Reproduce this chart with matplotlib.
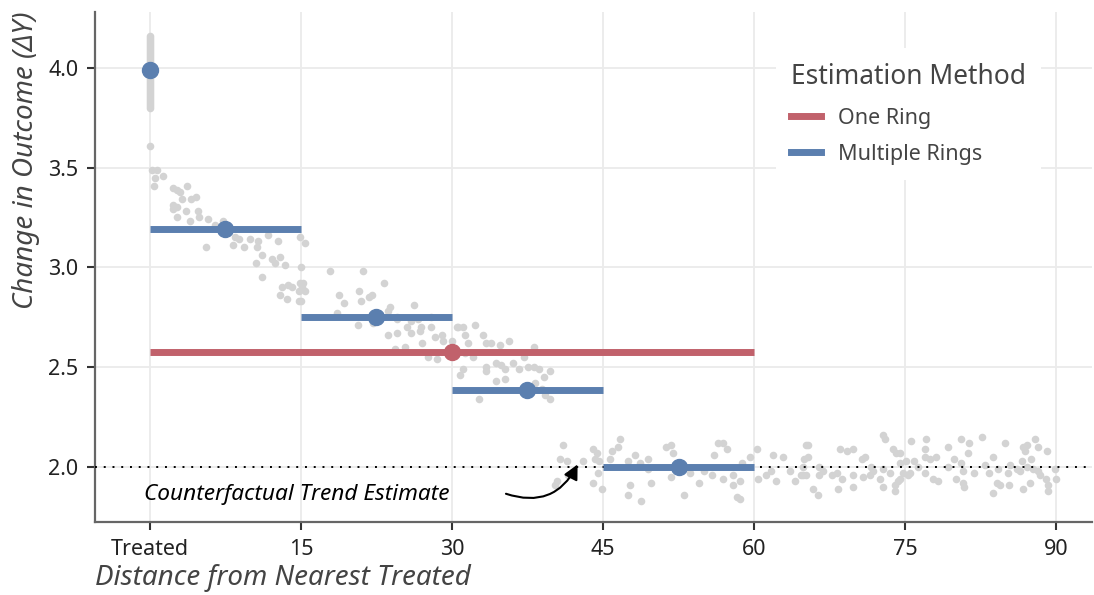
import matplotlib.pyplot as plt
from matplotlib.lines import Line2D

# colours
red = '#C1616B'
blue = '#5B7FAF'
grey_pts = '#D3D3D3'

# x tick positions / labels
x_ticks = [0, 15, 30, 45, 60, 75, 90]
x_labels = ['Treated', '15', '30', '45', '60', '75', '90']
y_ticks = [2.0, 2.5, 3.0, 3.5, 4.0]

# treated units (distance 0)
treated_y = [4.16, 4.15, 4.14, 4.13, 4.12, 4.11, 4.10, 4.09, 4.08, 4.07, 4.06,
             4.05, 4.04, 4.03, 4.02, 4.01, 3.99, 3.98, 3.97, 3.96, 3.95, 3.94,
             3.93, 3.92, 3.91, 3.90, 3.89, 3.88, 3.87, 3.86, 3.85, 3.84, 3.83,
             3.82, 3.81, 3.80, 3.61]

# control units, by distance band
band1_x = [0.2, 0.7, 1.3, 0.5, 0.4, 2.3, 2.7, 3.0, 3.7, 3.2, 4.1, 4.6, 2.3, 2.7,
           2.3, 3.6, 4.8, 2.7, 4.0, 4.9, 5.8, 6.5, 7.3, 5.6, 7.9, 8.4, 8.8, 8.3,
           9.3, 9.9, 10.7, 10.6, 11.7, 12.7, 11.1, 10.5, 12.1, 12.4, 12.9, 13.4,
           11.1, 14.9, 13.1, 13.7, 14.1, 12.9, 13.6, 14.9, 14.8, 14.8]
band1_y = [3.49, 3.49, 3.46, 3.45, 3.41, 3.40, 3.39, 3.38, 3.41, 3.34, 3.34, 3.35,
           3.31, 3.30, 3.29, 3.28, 3.28, 3.25, 3.23, 3.25, 3.24, 3.21, 3.23, 3.10,
           3.20, 3.15, 3.14, 3.11, 3.10, 3.14, 3.13, 3.10, 3.16, 3.13, 3.06, 3.02,
           3.04, 3.02, 3.05, 3.01, 2.95, 3.15, 2.90, 2.91, 2.90, 2.86, 2.84, 2.92,
           2.88, 2.83]

band2_x = [15.4, 15.0, 15.2, 15.1, 15.4, 15.0, 17.9, 21.2, 23.2, 18.8, 19.3, 20.8,
           21.0, 21.8, 22.1, 18.6, 20.7, 22.2, 23.8, 23.6, 24.5, 26.2, 25.5, 25.9,
           26.6, 26.9, 25.9, 26.8, 27.9, 27.9, 23.6, 24.5, 28.3, 29.0, 27.0, 29.1,
           24.3, 27.6, 28.5, 25.3, 24.5]
band2_y = [3.12, 3.00, 2.92, 2.90, 2.88, 2.83, 2.98, 2.98, 2.92, 2.86, 2.82, 2.88,
           2.83, 2.85, 2.86, 2.77, 2.71, 2.72, 2.80, 2.78, 2.75, 2.81, 2.70, 2.73,
           2.74, 2.70, 2.67, 2.68, 2.75, 2.70, 2.66, 2.67, 2.65, 2.66, 2.62, 2.63,
           2.59, 2.55, 2.54, 2.60, 2.74]

band3_x = [30.6, 31.1, 32.3, 31.3, 33.1, 31.6, 33.4, 33.9, 34.8, 35.7, 32.1, 31.3,
           38.1, 33.4, 34.4, 34.9, 35.3, 36.1, 36.7, 37.6, 38.1, 38.6, 39.7, 31.1,
           30.8, 33.4, 34.4, 35.3, 37.2, 39.1, 38.2, 38.9, 39.7, 39.2, 32.7, 30.5,
           30.0]
band3_y = [2.70, 2.70, 2.71, 2.66, 2.66, 2.62, 2.62, 2.62, 2.61, 2.63, 2.55, 2.57,
           2.60, 2.50, 2.52, 2.51, 2.49, 2.52, 2.49, 2.50, 2.50, 2.49, 2.48, 2.49,
           2.46, 2.48, 2.43, 2.44, 2.55, 2.45, 2.42, 2.39, 2.34, 2.36, 2.34, 2.70,
           2.63]

tail_x = [41.0, 40.7, 41.4, 40.4, 40.2, 41.5, 43.0, 44.0, 44.4, 44.2, 44.6, 44.5,
          44.0, 44.9, 45.9, 46.5, 46.7, 45.7, 47.5, 48.2, 47.7, 47.5, 48.8, 48.7,
          49.5, 49.8, 51.3, 51.8, 52.0, 51.8, 53.0, 54.5, 55.0, 56.0, 56.4, 56.9,
          55.8, 56.9, 57.9, 57.9, 58.6, 58.3, 58.6, 58.8, 59.6, 60.3, 60.4, 61.2,
          61.7, 61.9, 62.2, 62.9, 63.6, 64.1, 64.9, 65.2, 49.5, 53.6, 57.3,
          65.4, 65.0, 65.4, 64.9, 65.2, 65.9, 66.4, 66.5, 66.9, 66.5, 67.7, 68.2,
          68.7, 68.3, 68.5, 69.2, 69.8, 69.8, 69.8, 70.7, 71.0, 70.8, 71.5, 71.8,
          71.6, 72.5, 72.8, 72.8, 73.0, 72.8, 73.5, 73.8, 74.1, 74.5, 74.5, 74.8,
          74.5, 74.0, 74.3, 74.0, 75.1, 75.3, 75.5, 75.6, 75.9, 76.3, 77.0, 77.1,
          77.0, 77.5, 77.0, 78.1, 77.8, 78.3, 79.3, 79.3, 79.9, 80.1, 80.8, 80.9,
          80.6, 80.6, 80.8, 81.4, 81.3, 81.8, 82.6, 82.9, 83.3, 83.7, 84.1, 83.7,
          84.4, 84.2, 84.9, 85.4, 85.2, 85.3, 86.1, 86.4, 86.7, 87.1, 86.9, 86.6,
          87.1, 87.5, 86.7, 87.4, 87.9, 88.2, 87.7, 88.2, 88.4, 89.1, 89.0, 89.2,
          89.2, 89.9, 90.0, 64.7]
tail_y = [2.11, 2.04, 2.03, 1.93, 1.91, 1.96, 2.03, 2.09, 2.07, 2.04, 2.03, 1.97,
          1.92, 1.89, 2.08, 2.10, 2.14, 2.04, 2.03, 2.06, 1.91, 1.86, 1.83, 2.02,
          2.04, 1.92, 2.10, 2.11, 2.07, 1.95, 1.86, 1.92, 1.98, 2.06, 2.12, 2.12,
          1.96, 1.94, 1.96, 1.91, 1.93, 1.85, 1.84, 2.02, 2.05, 2.09, 1.94, 1.96,
          1.98, 2.06, 1.93, 2.05, 1.98, 1.93, 2.00, 2.11, 1.99, 1.97, 2.09,
          2.11, 2.04, 2.05, 1.96, 1.96, 1.89, 1.86, 2.00, 1.98, 1.96, 1.96, 1.97,
          1.94, 1.89, 2.09, 2.08, 2.09, 1.96, 1.90, 2.04, 2.05, 1.95, 1.96, 1.98,
          2.00, 1.94, 1.99, 2.16, 2.14, 1.90, 1.97, 2.09, 2.07, 2.07, 2.02, 1.97,
          1.94, 1.91, 1.93, 1.88, 2.03, 1.96, 1.97, 2.13, 2.03, 2.00, 2.09, 2.14,
          2.05, 2.04, 1.97, 2.05, 1.94, 1.93, 2.10, 2.00, 2.04, 1.94, 1.92, 1.90,
          2.14, 2.02, 1.98, 2.12, 2.07, 1.97, 2.15, 2.01, 1.97, 2.05, 1.92, 1.87,
          1.91, 1.99, 2.12, 2.01, 1.97, 1.91, 1.99, 1.98, 2.10, 2.11, 2.08, 2.03,
          2.00, 2.04, 1.89, 1.92, 2.14, 2.10, 1.99, 1.98, 1.96, 2.08, 1.94, 1.91,
          1.88, 1.99, 1.94, 1.96]

# estimates
one_ring = {'x0': 0, 'x1': 60, 'mid': 30, 'y': 2.575}
multi_x0 = [0, 15, 30, 45]
multi_x1 = [15, 30, 45, 60]
multi_mid = [7.5, 22.5, 37.5, 52.5]
multi_y = [3.19, 2.75, 2.385, 2.0]
treated_est = 3.99
counterfactual = 2.0

plt.rcParams['font.family'] = ['Noto Sans', 'DejaVu Sans']

fig = plt.figure(figsize=(10.94, 5.95), dpi=100)
ax = fig.add_axes([0.0868, 0.1227, 0.9112, 0.8573])

ax.set_xlim(-5.46, 93.55)
ax.set_ylim(1.724, 4.28)

ax.grid(True, color='#EBEBEB', linewidth=1.3, zorder=0)
ax.set_axisbelow(True)

# scatter
ax.scatter([0] * len(treated_y), treated_y, s=30, color=grey_pts, lw=0, zorder=2)
for xs, ys in [(band1_x, band1_y), (band2_x, band2_y), (band3_x, band3_y), (tail_x, tail_y)]:
    ax.scatter(xs, ys, s=30, color=grey_pts, lw=0, zorder=2)

# counterfactual trend
ax.axhline(counterfactual, color='black', linestyle=(0, (1, 3.5)), linewidth=1.4, zorder=3)

# one ring estimate
ax.hlines(one_ring['y'], one_ring['x0'], one_ring['x1'], color=red, linewidth=5, zorder=4)
ax.plot(one_ring['mid'], one_ring['y'], 'o', color=red, markersize=11.5, zorder=5)

# multiple rings
ax.hlines(multi_y, multi_x0, multi_x1, color=blue, linewidth=5, zorder=4)
ax.plot(multi_mid, multi_y, 'o', color=blue, markersize=11.5, zorder=5, lw=0)
ax.plot(0, treated_est, 'o', color=blue, markersize=11.5, zorder=5)

# annotation
ax.text(14.6, 1.86, 'Counterfactual Trend Estimate', style='italic', fontsize=16.3,
        ha='center', va='center', color='black')
ax.annotate('', xy=(42.6, 2.025), xytext=(35.1, 1.87),
            arrowprops=dict(arrowstyle='-|>', connectionstyle='arc3,rad=0.45',
                            color='black', lw=1.5, mutation_scale=22))

ax.set_xticks(x_ticks)
ax.set_xticklabels(x_labels)
ax.set_yticks(y_ticks)
ax.set_yticklabels([f'{v:.1f}' for v in y_ticks])
ax.tick_params(labelsize=15.5, colors='#333333', length=6, width=1.5,
               labelcolor='#222222', pad=6)

for s in ['top', 'right']:
    ax.spines[s].set_visible(False)
for s in ['left', 'bottom']:
    ax.spines[s].set_color('#666666')
    ax.spines[s].set_linewidth(1.6)

ax.set_xlabel('Distance from Nearest Treated', style='italic', fontsize=20,
              color='#444444', loc='left', labelpad=3)
ax.set_ylabel('Change in Outcome (ΔY)', style='italic', fontsize=20,
              color='#444444', loc='top', labelpad=6)

handles = [Line2D([0], [0], color=red, lw=5), Line2D([0], [0], color=blue, lw=5)]
leg = ax.legend(handles, ['One Ring', 'Multiple Rings'], title='Estimation Method',
                loc='upper left', bbox_to_anchor=(0.672, 0.95), frameon=True,
                fancybox=False, edgecolor='none', facecolor='white', framealpha=1,
                fontsize=15.5, title_fontsize=19, handlelength=1.4, borderpad=0.7,
                labelspacing=0.7, handletextpad=0.8)
leg._legend_box.align = 'left'
leg._legend_box.sep = 12
leg.get_title().set_color('#444444')
for t in leg.get_texts():
    t.set_color('#444444')

fig.savefig('out.png', dpi=100)
